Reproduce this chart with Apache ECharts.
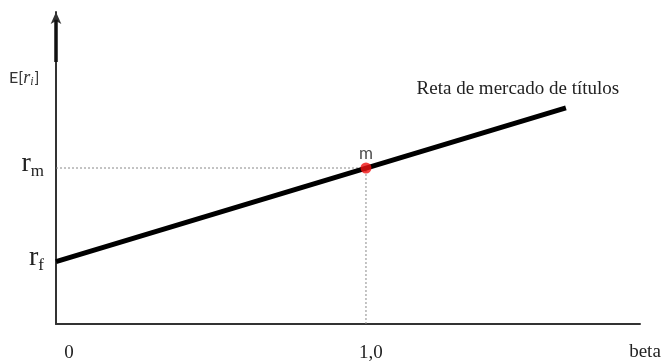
<!DOCTYPE html>
<html>
<head>
<meta charset="utf-8">
<script src="https://cdn.jsdelivr.net/npm/echarts@6/dist/echarts.min.js"></script>
<style>
  html, body { margin: 0; padding: 0; background: #fff; }
  #chart { width: 665px; height: 363px; }
</style>
</head>
<body>
<div id="chart"></div>
<script>
// security market line data
const betaTicks = [0, 1];
const betaLabels = ['0', '1,0'];
const lineBeta = [0, 1.645];
const lineReturn = [2, 6.93];
const rf = 2;
const rm = 5;
const marketPoint = [1, 5];

const serif = '"Liberation Serif", "DejaVu Serif", serif';
const sans = 'Lato, "Open Sans", sans-serif';

const chart = echarts.init(document.getElementById('chart'));

const option = {
  animation: false,
  grid: { left: 56, right: 25, top: 12, bottom: 37 },
  xAxis: {
    type: 'value',
    min: 0,
    max: 1.884,
    interval: 1,
    name: 'beta',
    nameLocation: 'end',
    nameGap: 0,
    nameTextStyle: {
      fontFamily: serif, fontSize: 19, color: '#222',
      align: 'center', verticalAlign: 'top', padding: [19, 0, 0, 10]
    },
    axisLine: { lineStyle: { color: '#333', width: 2 } },
    axisTick: { show: false },
    splitLine: { show: false },
    axisLabel: {
      margin: 20,
      showMaxLabel: false,
      formatter: (v) => {
        const i = betaTicks.indexOf(v);
        if (i < 0) return '';
        return i === 0 ? '{a|' + betaLabels[i] + '}' : '{b|' + betaLabels[i] + '}';
      },
      rich: {
        a: { fontFamily: serif, fontSize: 19, color: '#222', padding: [0, 0, 0, 26] },
        b: { fontFamily: serif, fontSize: 19, color: '#222', padding: [0, 0, 0, 10] }
      }
    }
  },
  yAxis: {
    type: 'value',
    min: 0,
    max: 10,
    interval: 1,
    axisLine: {
      show: true,
      symbol: ['none', 'arrow'],
      symbolSize: [8, 12],
      lineStyle: { color: '#333', width: 2 }
    },
    axisTick: { show: false },
    splitLine: { show: false },
    axisLabel: {
      margin: 12,
      formatter: (v) => v === rm ? '{r|r}{s|m}' : v === rf ? '{r|r}{s|f}' : '',
      rich: {
        r: { fontFamily: serif, fontSize: 28, color: '#222', padding: [0, 0, 8, 0] },
        s: { fontFamily: serif, fontSize: 17, color: '#222', padding: [8, 0, 0, 0] }
      }
    }
  },
  graphic: [
    {
      type: 'text', left: 9, top: 69,
      style: {
        text: 'E[{i|r}{j|i}]',
        fontFamily: sans,
        fontSize: 16,
        fill: '#333',
        rich: {
          i: { fontFamily: serif, fontStyle: 'italic', fontSize: 18, fill: '#333' },
          j: { fontFamily: serif, fontStyle: 'italic', fontSize: 12, fill: '#333', padding: [7, 1, 0, 0] }
        }
      }
    }
  ],
  series: [
    {
      // dotted guides to the market point
      type: 'line',
      silent: true,
      symbol: 'none',
      lineStyle: { color: '#888', width: 1, type: [2, 2] },
      data: [[0, rm], marketPoint, [marketPoint[0], 0]],
      z: 1
    },
    {
      // heavy top of the y axis
      type: 'line',
      silent: true,
      symbol: 'none',
      lineStyle: { color: '#111', width: 3.5 },
      data: [[0, 8.4], [0, 9.75]],
      z: 1
    },
    {
      type: 'line',
      symbol: 'circle',
      symbolSize: 0,
      showSymbol: true,
      lineStyle: { color: '#000', width: 5, cap: 'butt' },
      itemStyle: { color: '#000' },
      label: {
        show: true,
        position: 'top',
        distance: 9,
        offset: [-48, 0],
        fontFamily: serif,
        fontSize: 19,
        color: '#222',
        formatter: (p) => p.dataIndex === lineBeta.length - 1 ? 'Reta de mercado de títulos' : ''
      },
      data: lineBeta.map((b, i) => [b, lineReturn[i]]),
      z: 2
    },
    {
      type: 'scatter',
      symbolSize: 11,
      itemStyle: { color: '#f01010' },
      label: {
        show: true,
        position: 'top',
        distance: 0,
        formatter: 'm',
        fontFamily: sans,
        fontSize: 17,
        color: '#222'
      },
      data: [marketPoint],
      z: 3
    }
  ]
};

chart.setOption(option);
</script>
</body>
</html>
